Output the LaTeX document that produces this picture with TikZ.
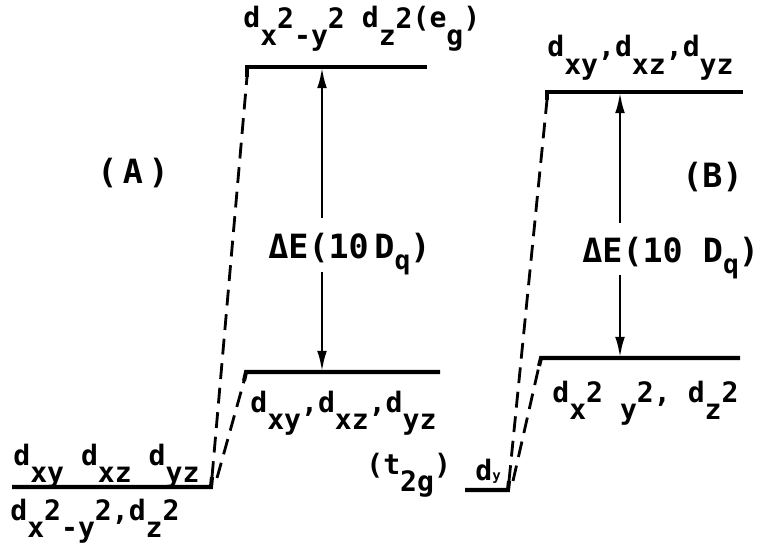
\documentclass[tikz,border=0pt]{standalone}
\usepackage{fontspec}
\setmainfont{DejaVu Sans Mono}
\usepackage{tikz}
\usetikzlibrary{calc}
\usetikzlibrary{arrows.meta}

\newcommand{\lo}[1]{\raisebox{-1.15ex}{#1}}
\newcommand{\hi}[1]{\raisebox{1.1ex}{#1}}
\newcommand{\qlo}[1]{\raisebox{-0.6ex}{\fontsize{15}{15}\selectfont #1}}

\tikzset{
  orbital/.style={line width=2.3pt},
  dline/.style={line width=1.6pt, dash pattern=on 9pt off 5pt},
  split/.style={line width=1.6pt},
  lbl/.style={inner sep=0pt, anchor=base west, font=\fontsize{16}{18}\selectfont\bfseries},
  biglbl/.style={inner sep=0pt, anchor=base west, font=\fontsize{19}{22}\selectfont\bfseries},
}

\begin{document}
\begin{tikzpicture}[x=0.02cm, y=-0.02cm, >={Latex[length=12pt,width=5.5pt]}]
\useasboundingbox (0,0) rectangle (757,560);

\coordinate (AloL) at (12,487);
\coordinate (AloR) at (211,487);
\coordinate (AloT) at (212,477);
\coordinate (AloT2) at (217,478);
\coordinate (AegT) at (247,77);
\coordinate (AegL) at (247,67);
\coordinate (AegR) at (427,67);
\coordinate (AegM) at (322,67);
\coordinate (AtgT) at (244,381);
\coordinate (AtgL) at (246,372);
\coordinate (AtgR) at (440,372);
\coordinate (AtgM) at (322,372);
\coordinate (AdEt) at (322,218);
\coordinate (AdEb) at (322,272);

\coordinate (BloL) at (465,490);
\coordinate (BloR) at (508,490);
\coordinate (BloT) at (509,481);
\coordinate (BloT2) at (513,481);
\coordinate (BtpT) at (547,100);
\coordinate (BtpL) at (547,92);
\coordinate (BtpR) at (743,92);
\coordinate (BtpM) at (620,92);
\coordinate (BegT) at (539,366);
\coordinate (BegL) at (541,358);
\coordinate (BegR) at (740,358);
\coordinate (BegM) at (620,358);
\coordinate (BdEt) at (620,223);
\coordinate (BdEb) at (620,275);

\node[biglbl, name=labA] at (97,184) {(\,A\,)};
\node[lbl, name=AloUp] at (13,465) {d\lo{xy} d\lo{xz} d\lo{yz}};
\node[lbl, name=AloDn] at (10,520) {d\lo{x\hi{2}-y\hi{2}},d\lo{z\hi{2}}};
\node[lbl, name=AegUp] at (243,28) {d\lo{x\hi{2}-y\hi{2}} d\lo{z\hi{2}}(e\lo{g})};
\node[lbl, name=AtgDn] at (250,412) {d\lo{xy},d\lo{xz},d\lo{yz}};
\node[lbl, name=Atg] at (366,474) {(t\lo{2g})};
\node[biglbl, name=dEA] at (268,259) {ΔE(10\,D\qlo{q})};

\node[biglbl, name=labB] at (682,188) {(B)};
\node[lbl, name=BloUp] at (475,480) {d{\fontsize{8}{8}\selectfont y}};
\node[lbl, name=BtpUp] at (547,57) {d\lo{xy},d\lo{xz},d\lo{yz}};
\node[lbl, name=BegDn] at (552,402) {d\lo{x\hi{2} y\hi{2}}, d\lo{z\hi{2}}};
\node[biglbl, name=dEB] at (582,263) {ΔE(10 D\qlo{q})};

\draw[orbital] (AloL) -- (AloR) -- (AloT);
\draw[orbital] (AegT) -- (AegL) -- (AegR);
\draw[orbital] (AtgT) -- (AtgL) -- (AtgR);
\draw[dline] (AloT) -- (AegT);
\draw[dline] (AloT2) -- (AtgT);
\draw[split,->] (AdEt) -- (AegM);
\draw[split,->] (AdEb) -- (AtgM);

\draw[orbital] (BloL) -- (BloR) -- (BloT);
\draw[orbital] (BtpT) -- (BtpL) -- (BtpR);
\draw[orbital] (BegT) -- (BegL) -- (BegR);
\draw[dline] (BloT) -- (BtpT);
\draw[dline] (BloT2) -- (BegT);
\draw[split,->] (BdEt) -- (BtpM);
\draw[split,->] (BdEb) -- (BegM);

\end{tikzpicture}
\end{document}
